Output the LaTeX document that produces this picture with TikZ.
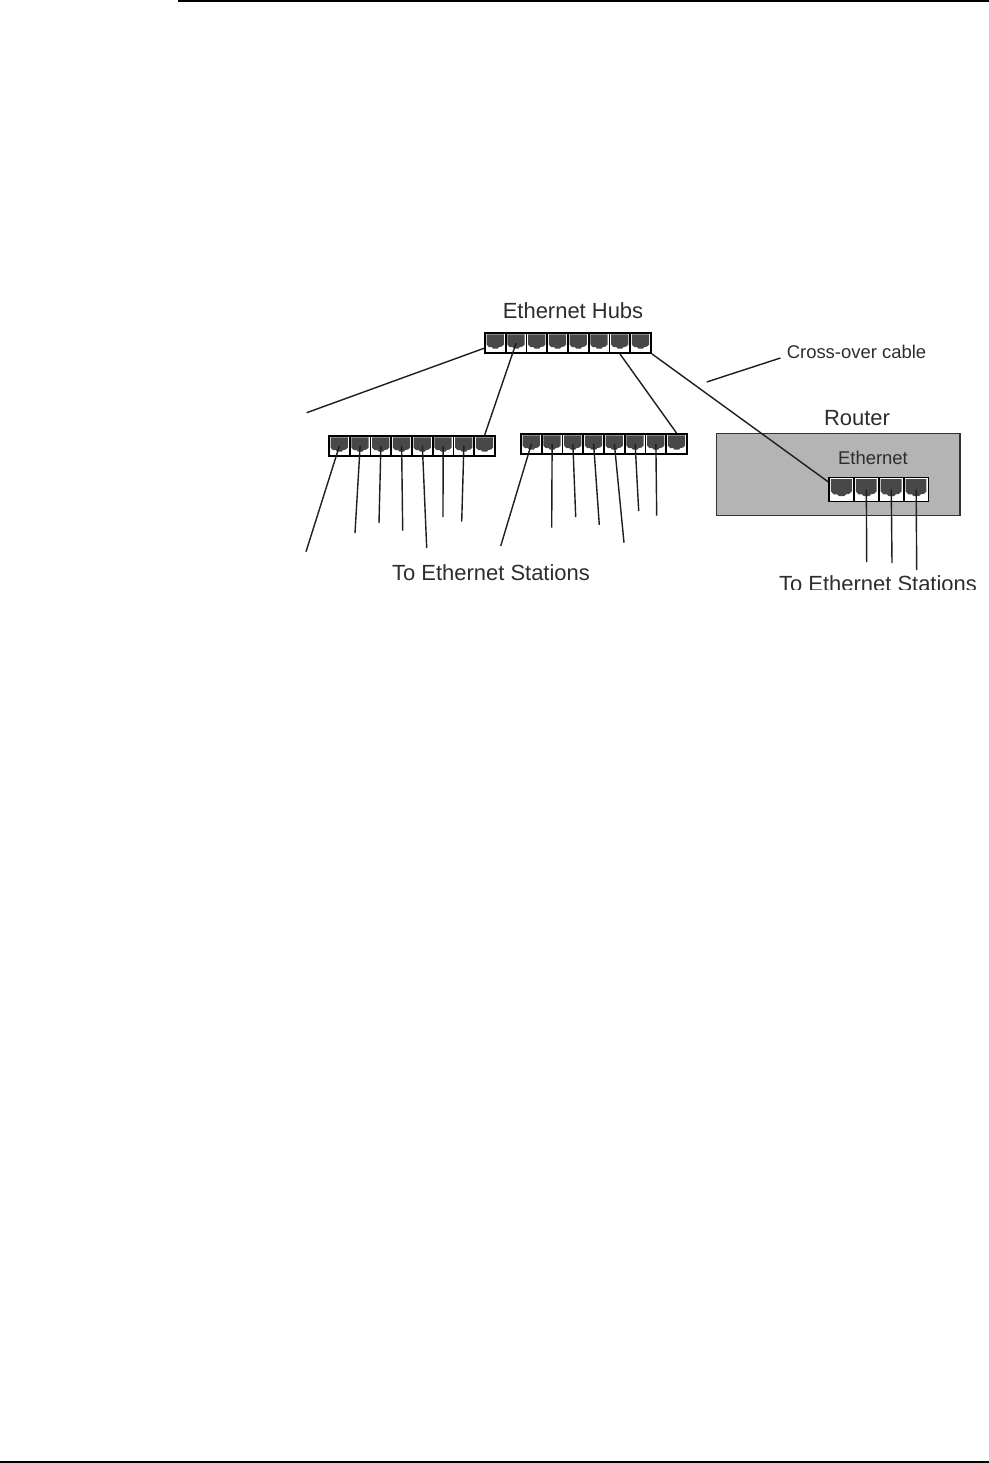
\documentclass[tikz,border=0pt]{standalone}
\usepackage{fontspec}
\usepackage{xcolor}
\setmainfont{Liberation Sans}
\usetikzlibrary{calc}
\definecolor{portDark}{RGB}{72,72,72}
\definecolor{routerGray}{RGB}{180,180,180}
\definecolor{wireDark}{RGB}{30,30,30}
\definecolor{labelDark}{RGB}{45,45,45}
\tikzset{
port/.style={draw=black, line width=0.95pt, fill=white, inner sep=0pt, minimum width=#1*0.415cm, minimum height=#1*0.4cm,
path picture={\fill[portDark, x=#1*0.02cm, y=-#1*0.02cm]
(-8.8,-8.6) -- (8.6,-8.6) -- (8.6,1.5) -- (6.6,3.5) -- (3.8,4) -- (2.3,5.6) -- (-2.1,5.6) -- (-3.6,4) -- (-6.6,4) -- (-8.8,1.5) -- cycle;}},
routerbox/.style={draw=black!80, line width=0.85pt, fill=routerGray, inner sep=0pt, minimum width=4.866cm, minimum height=1.632cm},
wire/.style={draw=wireDark, line width=0.8pt},
biglabel/.style={text=labelDark, inner sep=0pt, font=\fontsize{12.5}{15}\selectfont},
smalllabel/.style={text=labelDark, inner sep=0pt, font=\fontsize{10.5}{13}\selectfont}
}
\begin{document}
\begin{tikzpicture}[x=0.02cm, y=-0.02cm]
\useasboundingbox (0,0) rectangle (989,1463);
\draw[black, line width=1.1pt] (178,1) -- (989,1);
\draw[black, line width=1.1pt] (0,1462) -- (989,1462);
\node[routerbox] (router) at (838.3,474.5) {};
% the three hubs
\foreach \hub/\xa/\ya in {t/485/343, l/329/446, m/521/444}
\foreach \i in {1,...,8}
\node[port=1] (\hub\i) at ({\xa+(\i-0.5)*20.75},\ya) {};
% router ports
\foreach \i in {1,...,4}
\node[port=1.2] (r\i) at ({829+(\i-0.5)*24.9},489.5) {};
\node[biglabel] (hubslabel) at (573,311) {Ethernet Hubs};
\node[biglabel] (stationslabel) at (491,573) {To Ethernet Stations};
\node[biglabel] (routerlabel) at (857,418) {Router};
\node[smalllabel] (ethernetlabel) at (873,458) {Ethernet};
\node[smalllabel] (crosslabel) at (856.5,352) {Cross-over cable};
\begin{scope}
\clip (700,560) rectangle (989,589.5);
\node[biglabel] (routerstations) at (878,584) {To Ethernet Stations};
\end{scope}
% free ends of the cables
\coordinate (crossend) at (706.7,382);
\coordinate (t1end) at (306.7,412.7);
\foreach \name/\x/\y in {l1/306/551.7, l2/355/533, l3/379/523, l4/402.7/530.7, l5/426.7/548, l6/443/517, l7/461.7/521.7,
m1/500.7/546, m2/551.7/527.7, m3/575.7/517, m4/599.3/525, m5/624/542.7, m6/638.7/511, m7/656.7/515.7,
r2/866.7/562, r3/892/563, r4/916.7/570}
\coordinate (\name end) at (\x,\y);
% cables
\draw[wire] ($(crosslabel.west)+(-6,6)$) -- (crossend);
\draw[wire] (t1.205) -- (t1end);
\draw[wire] (t2.center) -- (l8.north);
\draw[wire] (t7.south) -- (m8.north);
\draw[wire] (t8.south east) -- (r1.150);
\foreach \name in {l1,l2,l3,l4,l5,l6,l7,m1,m2,m3,m4,m5,m6,m7,r2,r3,r4}
\draw[wire] (\name.center) -- (\name end);
\end{tikzpicture}
\end{document}
